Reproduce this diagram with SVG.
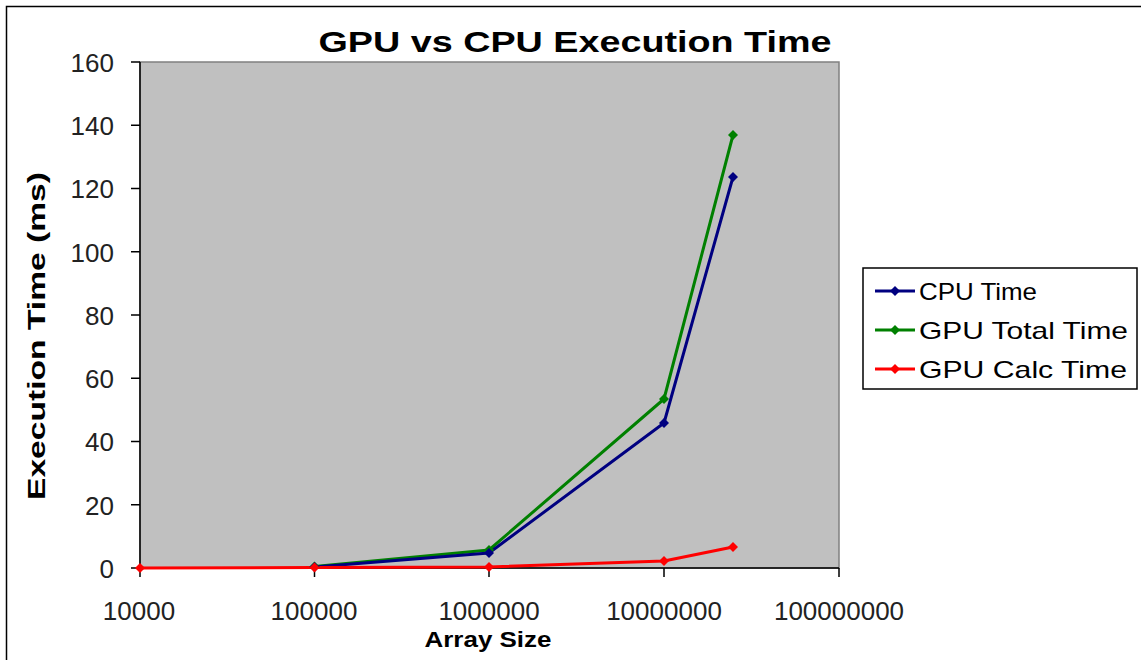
<svg xmlns="http://www.w3.org/2000/svg" width="1141" height="660" viewBox="0 0 1141 660">
<style>
.tick{font-family:"Liberation Sans",Arial,sans-serif;font-size:26px;fill:#222}
.bold{font-family:"Liberation Sans",Arial,sans-serif;font-weight:bold;fill:#000}
.leg{font-family:"Liberation Sans",Arial,sans-serif;font-size:24px;fill:#000}
.ax{stroke:#000;stroke-width:1.5;fill:none}
.cpu{stroke:#000080;stroke-width:3;fill:none;stroke-linejoin:round}
.gt{stroke:#008000;stroke-width:3;fill:none;stroke-linejoin:round}
.gc{stroke:#FF0000;stroke-width:3;fill:none;stroke-linejoin:round}
</style>
<defs>
<path id="dia" d="M0,-5 L5,0 L0,5 L-5,0 Z"/>
</defs>
<rect x="0" y="0" width="1141" height="660" fill="#fff"/>
<rect x="6.5" y="6.5" width="1140" height="660" fill="none" stroke="#000" stroke-width="1.5"/>
<g id="title"><text class="bold" x="575" y="52" font-size="30" text-anchor="middle" textLength="513" lengthAdjust="spacingAndGlyphs">GPU vs CPU Execution Time</text></g>
<g id="plot">
<rect x="140" y="62" width="699" height="506" fill="#C0C0C0" stroke="#808080" stroke-width="1.5"/>
<path class="ax" d="M140,62 V568 H839"/>
<path class="ax" d="M131,62H140M131,125.25H140M131,188.5H140M131,251.75H140M131,315H140M131,378.25H140M131,441.5H140M131,504.75H140M131,568H140"/>
<path class="ax" d="M140,568V577M314.5,568V577M489,568V577M664,568V577M839,568V577"/>
</g>
<g id="yticks" text-anchor="end">
<text class="tick" x="114" y="72">160</text>
<text class="tick" x="114" y="135">140</text>
<text class="tick" x="114" y="198">120</text>
<text class="tick" x="114" y="262">100</text>
<text class="tick" x="114" y="325">80</text>
<text class="tick" x="114" y="388">60</text>
<text class="tick" x="114" y="451">40</text>
<text class="tick" x="114" y="515">20</text>
<text class="tick" x="114" y="578">0</text>
</g>
<g id="xticks" text-anchor="middle">
<text class="tick" x="139" y="620">10000</text>
<text class="tick" x="314" y="620">100000</text>
<text class="tick" x="489" y="620">1000000</text>
<text class="tick" x="664" y="620">10000000</text>
<text class="tick" x="839" y="620">100000000</text>
</g>
<g id="xtitle"><text class="bold" x="488" y="647" font-size="22" text-anchor="middle" textLength="127" lengthAdjust="spacingAndGlyphs">Array Size</text></g>
<g id="ytitle"><text class="bold" transform="translate(45,336) rotate(-90)" x="0" y="0" font-size="24" text-anchor="middle" textLength="328" lengthAdjust="spacingAndGlyphs">Execution Time (ms)</text></g>
<g id="series">
<polyline class="gt" points="314.5,566.5 489,550 664,399 733,135"/>
<polyline class="cpu" points="314.5,567 489,553 664,423 733,177"/>
<polyline class="gc" points="140,568 314.5,567.5 489,567 664,561 733,547"/>
<g fill="#008000"><use href="#dia" x="314.5" y="566.5"/><use href="#dia" x="489" y="550"/><use href="#dia" x="664" y="399"/><use href="#dia" x="733" y="135"/></g>
<g fill="#000080"><use href="#dia" x="314.5" y="567"/><use href="#dia" x="489" y="553"/><use href="#dia" x="664" y="423"/><use href="#dia" x="733" y="177"/></g>
<g fill="#FF0000"><use href="#dia" x="140" y="568"/><use href="#dia" x="314.5" y="567.5"/><use href="#dia" x="489" y="567"/><use href="#dia" x="664" y="561"/><use href="#dia" x="733" y="547"/></g>
</g>
<g id="legend">
<rect x="863" y="268" width="274" height="121" fill="#fff" stroke="#000" stroke-width="1.5"/>
<line class="cpu" x1="875" y1="291" x2="915" y2="291"/><use href="#dia" x="895" y="291" fill="#000080"/>
<line class="gt" x1="875" y1="330" x2="915" y2="330"/><use href="#dia" x="895" y="330" fill="#008000"/>
<line class="gc" x1="875" y1="369" x2="915" y2="369"/><use href="#dia" x="895" y="369" fill="#FF0000"/>
<text class="leg" x="919" y="300" textLength="118" lengthAdjust="spacingAndGlyphs">CPU Time</text>
<text class="leg" x="919" y="339" textLength="209" lengthAdjust="spacingAndGlyphs">GPU Total Time</text>
<text class="leg" x="919" y="378" textLength="208" lengthAdjust="spacingAndGlyphs">GPU Calc Time</text>
</g>
</svg>
